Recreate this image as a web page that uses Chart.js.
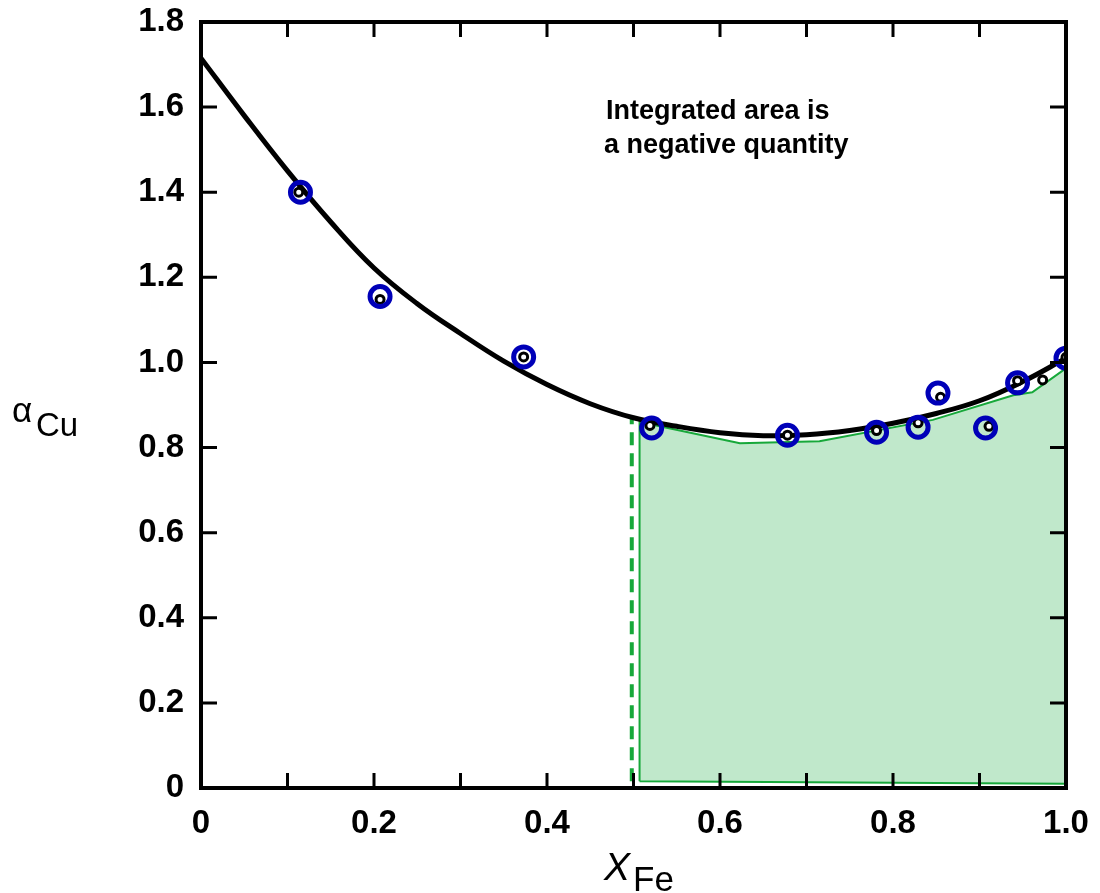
<!DOCTYPE html>
<html lang="en">
<head>
    <meta charset="UTF-8">
    <title>alpha Cu vs X Fe</title>
    <script src="https://cdn.jsdelivr.net/npm/chart.js"></script>
    <style>
        body { margin: 0; background: #fff; }
        #wrap { width: 1100px; height: 893px; }
    </style>
</head>
<body>
<div id="wrap"><canvas id="chart" width="1100" height="893"></canvas></div>
<script>
    // Measured points (circled in blue)
    const pointX = [0.115, 0.207, 0.373, 0.521, 0.678, 0.781, 0.829, 0.852, 0.907, 0.944, 1.0];
    const pointY = [1.40, 1.155, 1.013, 0.846, 0.829, 0.836, 0.848, 0.928, 0.846, 0.952, 1.01];

    // Original small black markers (one of them is not circled)
    const dotX = [0.113, 0.207, 0.373, 0.519, 0.678, 0.781, 0.829, 0.855, 0.911, 0.944, 0.973, 1.0];
    const dotY = [1.40, 1.148, 1.013, 0.852, 0.829, 0.84, 0.858, 0.918, 0.85, 0.957, 0.959, 1.012];

    // Fitted curve
    const curveX = [0, 0.05, 0.1, 0.15, 0.2, 0.25, 0.3, 0.35, 0.4, 0.45, 0.5, 0.55, 0.6, 0.65, 0.7, 0.75, 0.8, 0.85, 0.9, 0.95, 1.0];
    const curveY = [1.715, 1.58, 1.45, 1.33, 1.222, 1.138, 1.068, 1.003, 0.948, 0.903, 0.87, 0.85, 0.835, 0.828, 0.83, 0.84, 0.857, 0.88, 0.91, 0.955, 1.01];

    // Shaded area outline (x from 0.5 to 1.0)
    const areaX = [0.507, 0.507, 0.623, 0.715, 0.846, 0.939, 0.961, 0.999, 0.999, 0.507];
    const areaY = [0.016, 0.86, 0.81, 0.815, 0.865, 0.923, 0.93, 0.985, 0.01, 0.016];

    // Dashed lower limit of integration
    const limitX = [0.498, 0.498];
    const limitY = [0.016, 0.87];

    const xTicks = [0, 0.1, 0.2, 0.3, 0.4, 0.5, 0.6, 0.7, 0.8, 0.9, 1.0];
    const yTicks = [0, 0.2, 0.4, 0.6, 0.8, 1.0, 1.2, 1.4, 1.6, 1.8];

    const pts = (xs, ys) => xs.map((x, i) => ({ x: x, y: ys[i] }));

    const tickFont = { family: 'Liberation Sans, Arial, sans-serif', size: 33, weight: 'bold' };

    // frame, inward ticks and texts
    const framePlugin = {
        id: 'frame',
        afterDatasetsDraw(chart) {
            const ctx = chart.ctx;
            const a = chart.chartArea;
            const xs = chart.scales.x, ys = chart.scales.y;
            ctx.save();
            ctx.strokeStyle = '#000';
            ctx.lineWidth = 4;
            ctx.strokeRect(a.left, a.top, a.right - a.left, a.bottom - a.top);
            ctx.lineWidth = 3;
            ctx.beginPath();
            xTicks.forEach(v => {
                const px = xs.getPixelForValue(v);
                ctx.moveTo(px, a.bottom); ctx.lineTo(px, a.bottom - 15);
                ctx.moveTo(px, a.top); ctx.lineTo(px, a.top + 15);
            });
            yTicks.forEach(v => {
                const py = ys.getPixelForValue(v);
                ctx.moveTo(a.left, py); ctx.lineTo(a.left + 16, py);
                ctx.moveTo(a.right, py); ctx.lineTo(a.right - 16, py);
            });
            ctx.stroke();

            ctx.fillStyle = '#000';
            ctx.textBaseline = 'alphabetic';
            ctx.textAlign = 'left';
            ctx.font = 'bold 27px "Liberation Sans", Arial, sans-serif';
            ctx.fillText('Integrated area is', 606, 119);
            ctx.fillText('a negative quantity', 604, 153);

            // y title
            ctx.font = '35px "Liberation Sans", Arial, sans-serif';
            ctx.fillText('α', 12, 422);
            ctx.font = '33px "Liberation Sans", Arial, sans-serif';
            ctx.fillText('Cu', 36, 436);

            // x title
            ctx.font = 'italic 39px "Liberation Sans", Arial, sans-serif';
            ctx.fillText('X', 604, 880);
            ctx.font = '35px "Liberation Sans", Arial, sans-serif';
            ctx.fillText('Fe', 633, 891);
            ctx.restore();
        }
    };

    new Chart(document.getElementById('chart'), {
        type: 'line',
        data: {
            datasets: [
                {
                    label: 'measured',
                    data: pts(pointX, pointY),
                    showLine: false,
                    pointRadius: 10,
                    pointBorderWidth: 5,
                    pointBorderColor: '#0000b8',
                    pointBackgroundColor: 'rgba(0,0,0,0)',
                    order: 0
                },
                {
                    label: 'markers',
                    data: pts(dotX, dotY),
                    showLine: false,
                    pointRadius: 4,
                    pointBorderWidth: 3,
                    pointBorderColor: '#000',
                    pointBackgroundColor: '#fff',
                    order: 1
                },
                {
                    label: 'curve',
                    data: pts(curveX, curveY),
                    borderColor: '#000',
                    borderWidth: 5,
                    pointRadius: 0,
                    tension: 0.4,
                    fill: false,
                    order: 2
                },
                {
                    label: 'limit',
                    data: pts(limitX, limitY),
                    borderColor: '#17a83a',
                    borderWidth: 4,
                    borderDash: [13, 8],
                    pointRadius: 0,
                    fill: false,
                    order: 3
                },
                {
                    label: 'area',
                    data: pts(areaX, areaY),
                    borderColor: '#17a83a',
                    borderWidth: 2,
                    backgroundColor: '#c0e8cb',
                    pointRadius: 0,
                    tension: 0,
                    fill: 'shape',
                    order: 4
                }
            ]
        },
        options: {
            responsive: false,
            animation: false,
            layout: { padding: { top: 22, right: 34, left: 0, bottom: 0 } },
            plugins: {
                legend: { display: false },
                tooltip: { enabled: false }
            },
            scales: {
                x: {
                    type: 'linear',
                    min: 0,
                    max: 1,
                    grid: { display: false },
                    border: { display: false },
                    afterFit: s => { s.height = 105; s.paddingLeft = 0; s.paddingRight = 0; },
                    afterBuildTicks: s => { s.ticks = xTicks.map(v => ({ value: v })); },
                    ticks: {
                        autoSkip: false,
                        maxRotation: 0,
                        padding: 8,
                        color: '#000',
                        font: tickFont,
                        callback: v => {
                            const r = Math.round(v * 10);
                            if (r % 2) return '';
                            if (r === 0) return '0';
                            return (r / 10).toFixed(1);
                        }
                    }
                },
                y: {
                    type: 'linear',
                    min: 0,
                    max: 1.8,
                    grid: { display: false },
                    border: { display: false },
                    afterFit: s => { s.width = 201; s.paddingTop = 0; s.paddingBottom = 0; },
                    afterBuildTicks: s => { s.ticks = yTicks.map(v => ({ value: v })); },
                    ticks: {
                        padding: 9,
                        color: '#000',
                        font: tickFont,
                        callback: v => (v === 0 ? '0' : v.toFixed(1))
                    }
                }
            }
        },
        plugins: [framePlugin]
    });
</script>
</body>
</html>
